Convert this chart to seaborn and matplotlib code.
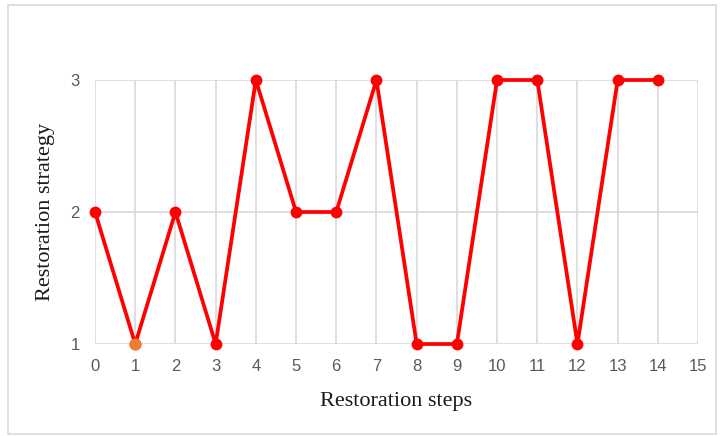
import matplotlib
matplotlib.use("Agg")
import matplotlib.pyplot as plt
import seaborn as sns
import pandas as pd
from matplotlib.patches import Rectangle

# data
steps = list(range(15))
strategy = [2, 1, 2, 1, 3, 2, 2, 3, 1, 1, 3, 3, 1, 3, 3]
highlight_step = 1
x_ticks = list(range(16))
y_ticks = [1, 2, 3]

df = pd.DataFrame({"step": steps, "strategy": strategy})

sns.set_style("white")
plt.rcParams["font.family"] = ["DejaVu Sans"]

fig = plt.figure(figsize=(7.21, 4.36), dpi=100)
ax = fig.add_axes([0.1318, 0.211, 0.8364, 0.6055])

sns.lineplot(data=df, x="step", y="strategy", ax=ax, color="#FF0000",
             linewidth=2.7, marker="o", markersize=8.5, markeredgewidth=0)
hl = df[df["step"] == highlight_step]
sns.scatterplot(data=hl, x="step", y="strategy", ax=ax, color="#ED7D31",
                s=75, linewidth=0, zorder=5)

ax.set_xlim(0, 15)
ax.set_ylim(1, 3)
ax.set_xticks(x_ticks)
ax.set_yticks(y_ticks)
ax.grid(True, color="#D9D9D9", linewidth=1.2)
ax.set_axisbelow(True)
for s in ax.spines.values():
    s.set_visible(False)
ax.tick_params(length=0, labelsize=12, labelcolor="#595959")
ax.tick_params(axis="x", pad=11)
ax.tick_params(axis="y", pad=11)
for lbl in ax.get_xticklabels() + ax.get_yticklabels():
    lbl.set_family("Liberation Sans")
for line in ax.lines:
    line.set_clip_on(False)
for c in ax.collections:
    c.set_clip_on(False)

ax.set_xlabel("Restoration steps", family="Liberation Serif", fontsize=16,
              labelpad=13, color="#1a1a1a")
ax.set_ylabel("Restoration strategy", family="Liberation Serif", fontsize=16,
              labelpad=11, color="#1a1a1a")

# light frame round the whole chart
fig.patches.append(Rectangle((8 / 721, 2 / 436), 708 / 721, 429 / 436,
                             transform=fig.transFigure, fill=False,
                             edgecolor="#D9D9D9", linewidth=1.2))

fig.savefig("out.png", dpi=100)
